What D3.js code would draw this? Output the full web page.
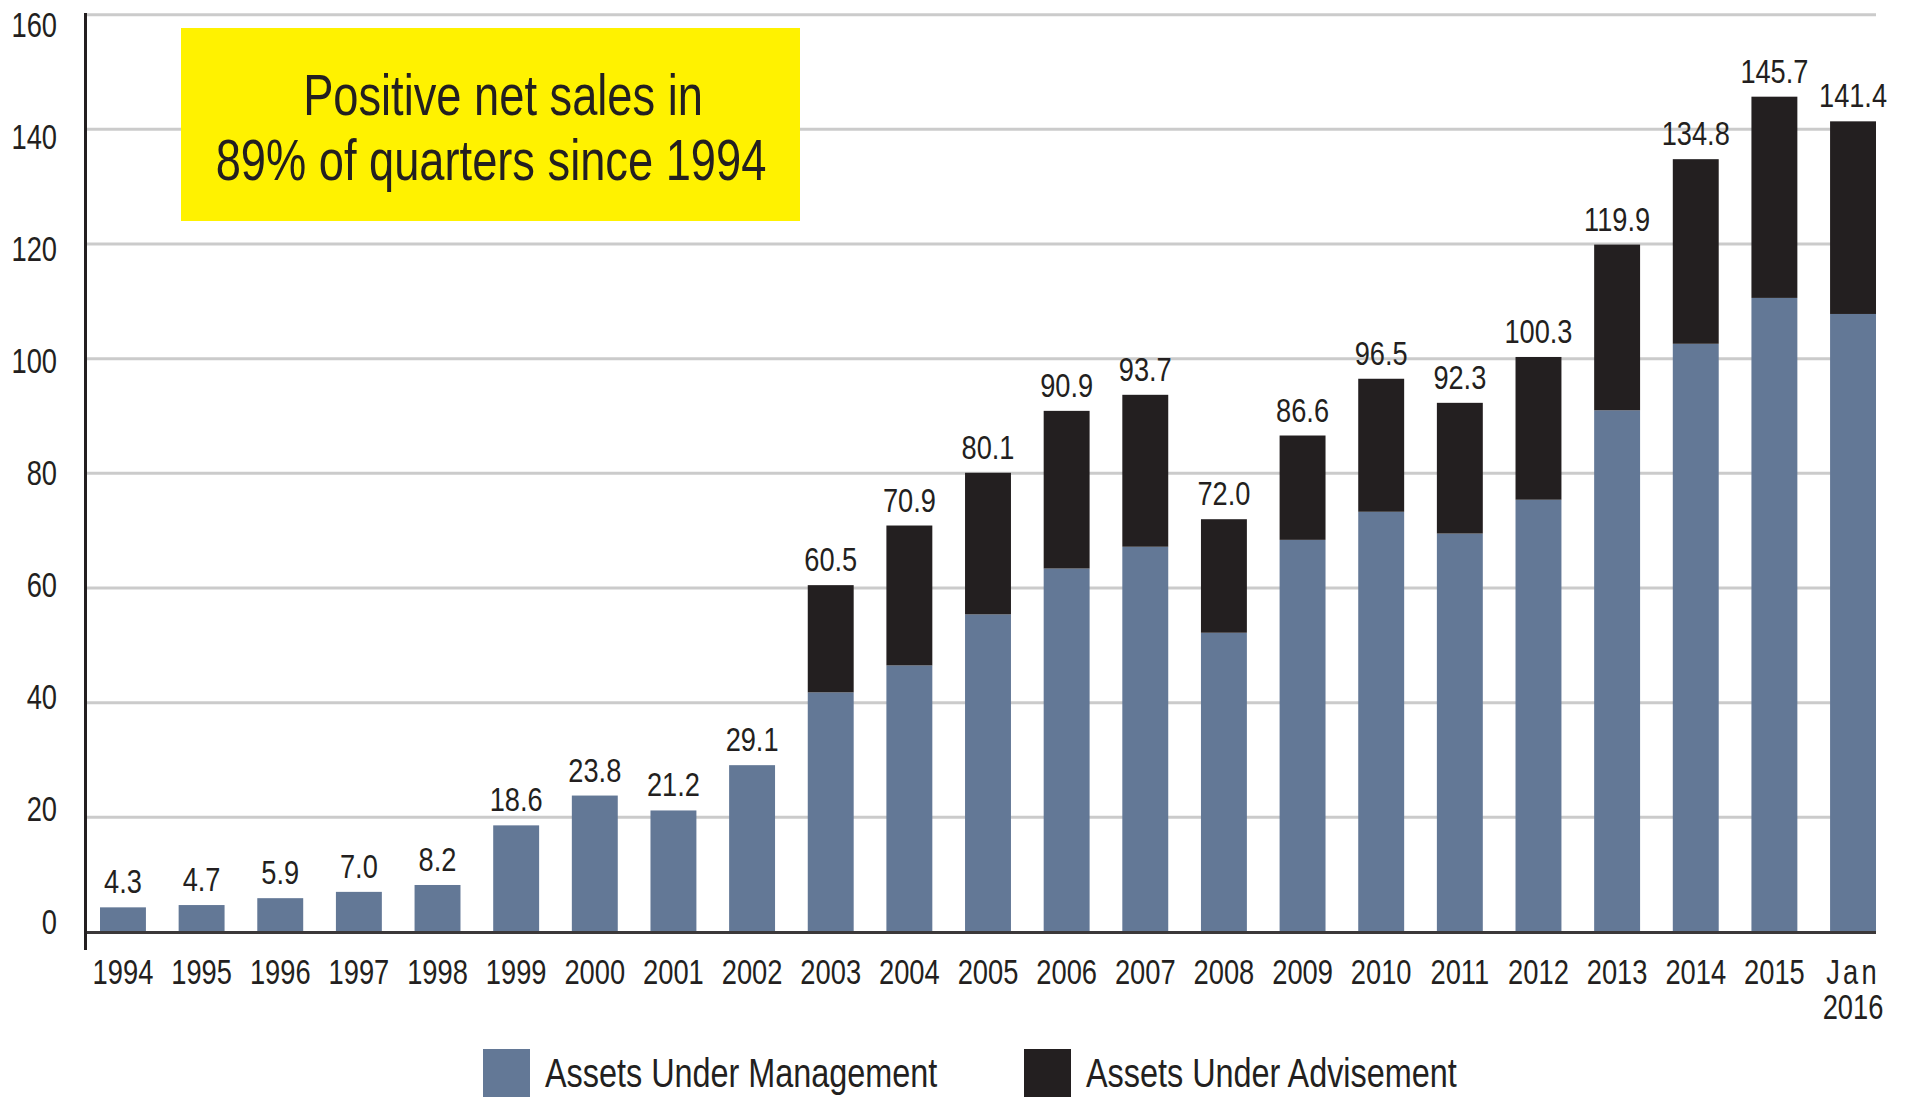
<!DOCTYPE html>
<html>
<head>
<meta charset="utf-8">
<script src="https://cdn.jsdelivr.net/npm/d3@7"></script>
<style>
  html, body { margin: 0; padding: 0; background: #fff; }
  svg { display: block; }
  text { font-family: "Liberation Sans", Arial, "Noto Sans", sans-serif; fill: #231f20; }
</style>
</head>
<body>
<div id="chart"></div>
<script>
// Year categories (last one wraps onto two lines)
const years = ['1994', '1995', '1996', '1997', '1998', '1999', '2000', '2001', '2002',
  '2003', '2004', '2005', '2006', '2007', '2008', '2009', '2010', '2011', '2012',
  '2013', '2014', '2015', 'Jan 2016'];

// Total assets (labels above bars), $ billions
const totals = [4.3, 4.7, 5.9, 7.0, 8.2, 18.6, 23.8, 21.2, 29.1, 60.5, 70.9, 80.1,
  90.9, 93.7, 72.0, 86.6, 96.5, 92.3, 100.3, 119.9, 134.8, 145.7, 141.4];

// Assets Under Management portion
const aum = [4.3, 4.7, 5.9, 7.0, 8.2, 18.6, 23.8, 21.2, 29.1, 41.8, 46.5, 55.4,
  63.4, 67.2, 52.2, 68.4, 73.3, 69.5, 75.4, 91.0, 102.6, 110.6, 107.8];

const yTicks = [0, 20, 40, 60, 80, 100, 120, 140, 160];

const seriesNames = ['Assets Under Management', 'Assets Under Advisement'];
const noteLines = ['Positive net sales in', '89% of quarters since 1994'];

const colors = { aum: '#637896', aua: '#231f20', grid: '#cbcbcb', ink: '#231f20', note: '#fff200' };

const width = 1907;
const height = 1097;
const axisX = 85.5;
const plotRight = 1876;

// no condensed face is installed, so squeeze the regular one horizontally
const squeeze = sx => `scale(${sx},1)`;

const svg = d3.select('#chart')
  .append('svg')
  .attr('width', width)
  .attr('height', height);

svg.append('rect').attr('width', width).attr('height', height).attr('fill', '#fff');

const y = d3.scaleLinear().domain([0, 160]).range([932, 14.7]);
// the tick labels sit on a slightly tighter spacing than the gridlines
const yLabel = d3.scaleLinear().domain([0, 160]).range([933, 36]);

const x = d3.scaleBand()
  .domain(years)
  .range([100, plotRight])
  .paddingInner(0.416)
  .paddingOuter(0);

// Gridlines
svg.append('g')
  .selectAll('line')
  .data(yTicks.filter(d => d > 0))
  .join('line')
  .attr('x1', axisX)
  .attr('x2', plotRight)
  .attr('y1', d => y(d))
  .attr('y2', d => y(d))
  .attr('stroke', colors.grid)
  .attr('stroke-width', 3);

// Y tick labels
const yAxis = svg.append('g')
  .attr('transform', 'translate(57,0)')
  .call(d3.axisLeft(yLabel).tickValues(yTicks).tickSize(0).tickPadding(0));
yAxis.select('.domain').remove();
yAxis.selectAll('text')
  .attr('dy', 0)
  .attr('x', 0)
  .attr('text-anchor', 'end')
  .attr('font-size', '35px')
  .attr('font-family', null)
  .attr('fill', colors.ink)
  .attr('transform', squeeze(0.78));

// Bars: AUM at the bottom, AUA stacked on top
const bars = svg.append('g');
bars.selectAll('rect.aum')
  .data(years)
  .join('rect')
  .attr('class', 'aum')
  .attr('x', d => x(d))
  .attr('width', x.bandwidth())
  .attr('y', (d, i) => y(aum[i]))
  .attr('height', (d, i) => y(0) - y(aum[i]))
  .attr('fill', colors.aum);

bars.selectAll('rect.aua')
  .data(years.filter((d, i) => totals[i] > aum[i]))
  .join('rect')
  .attr('class', 'aua')
  .attr('x', d => x(d))
  .attr('width', x.bandwidth())
  .attr('y', d => y(totals[years.indexOf(d)]))
  .attr('height', d => {
    const i = years.indexOf(d);
    return y(aum[i]) - y(totals[i]);
  })
  .attr('fill', colors.aua);

// Value labels
svg.append('g')
  .selectAll('text')
  .data(years)
  .join('text')
  .attr('transform', (d, i) =>
    `translate(${x(d) + x.bandwidth() / 2},${y(totals[i]) - 14}) ${squeeze(0.8)}`)
  .attr('text-anchor', 'middle')
  .attr('font-size', '34px')
  .text((d, i) => totals[i].toFixed(1));

// Axis lines
svg.append('line')
  .attr('x1', axisX).attr('x2', plotRight)
  .attr('y1', y(0) + 0.5).attr('y2', y(0) + 0.5)
  .attr('stroke', '#3b3839')
  .attr('stroke-width', 3);

svg.append('line')
  .attr('x1', axisX).attr('x2', axisX)
  .attr('y1', 13).attr('y2', 950)
  .attr('stroke', colors.ink)
  .attr('stroke-width', 3);

// X tick labels
const xAxis = svg.append('g')
  .attr('transform', `translate(0, ${y(0)})`)
  .call(d3.axisBottom(x).tickSize(0).tickPadding(0));
xAxis.select('.domain').remove();
xAxis.selectAll('text')
  .attr('y', 0)
  .attr('dy', null)
  .attr('font-size', '35px')
  .attr('font-family', null)
  .attr('fill', colors.ink)
  .attr('transform', squeeze(0.78))
  .each(function(d) {
    const parts = d.split(' ');
    const t = d3.select(this).text(null);
    parts.forEach((p, k) => {
      t.append('tspan')
        .attr('x', 0)
        .attr('y', 52 + k * 35)
        .attr('letter-spacing', parts.length > 1 && k === 0 ? '4px' : null)
        .text(p);
    });
  });

// Annotation box
const note = svg.append('g');
note.append('rect')
  .attr('x', 181).attr('y', 28)
  .attr('width', 619).attr('height', 193)
  .attr('fill', colors.note);
note.selectAll('text')
  .data(noteLines)
  .join('text')
  .attr('transform', (d, i) => `translate(${i === 0 ? 503 : 491},${115 + i * 65}) ${squeeze(0.78)}`)
  .attr('text-anchor', 'middle')
  .attr('font-size', '58px')
  .text(d => d);

// Legend
const legend = svg.append('g');
const legendX = [483, 1024];
const legendColors = [colors.aum, colors.aua];
seriesNames.forEach((name, i) => {
  legend.append('rect')
    .attr('x', legendX[i]).attr('y', 1049)
    .attr('width', 47).attr('height', 48)
    .attr('fill', legendColors[i]);
  legend.append('text')
    .attr('transform', `translate(${legendX[i] + 62},1087) ${squeeze(0.81)}`)
    .attr('font-size', '40px')
    .text(name);
});
</script>
</body>
</html>
